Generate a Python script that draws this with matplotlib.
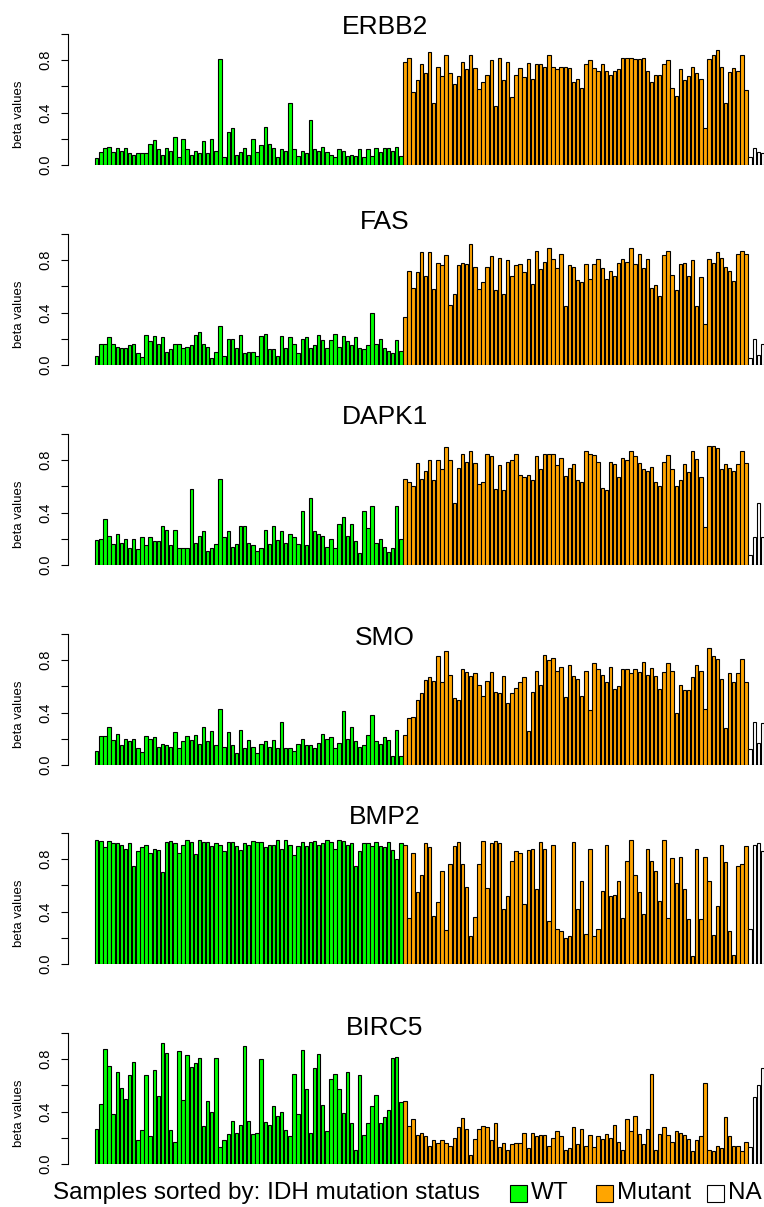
import matplotlib
matplotlib.use("Agg")
import matplotlib.pyplot as plt
from matplotlib.patches import Rectangle

plt.rcParams['font.family'] = ['Liberation Sans', 'DejaVu Sans']

# beta values per gene, samples grouped by IDH status (WT, Mutant, NA)
genes = ['ERBB2', 'FAS', 'DAPK1', 'SMO', 'BMP2', 'BIRC5']

erbb2_wt = [0.05, 0.10, 0.13, 0.14, 0.10, 0.13, 0.11, 0.13, 0.09, 0.08, 0.09, 0.09, 0.09, 0.16, 0.19,
            0.12, 0.08, 0.13, 0.11, 0.21, 0.06, 0.20, 0.12, 0.08, 0.11, 0.09, 0.18, 0.09, 0.20, 0.11,
            0.81, 0.06, 0.25, 0.28, 0.08, 0.10, 0.13, 0.08, 0.20, 0.10, 0.15, 0.29, 0.16, 0.13, 0.06,
            0.12, 0.11, 0.47, 0.12, 0.07, 0.11, 0.09, 0.34, 0.12, 0.11, 0.14, 0.10, 0.08, 0.06, 0.12,
            0.11, 0.07, 0.08, 0.07, 0.12, 0.06, 0.12, 0.07, 0.13, 0.10, 0.13, 0.13, 0.11, 0.14, 0.07]
erbb2_mut = [0.79, 0.82, 0.56, 0.65, 0.77, 0.70, 0.86, 0.47, 0.75, 0.68, 0.84, 0.70, 0.62, 0.68, 0.79,
             0.73, 0.84, 0.74, 0.58, 0.63, 0.69, 0.80, 0.45, 0.82, 0.65, 0.79, 0.52, 0.69, 0.74, 0.67,
             0.78, 0.66, 0.77, 0.77, 0.75, 0.84, 0.75, 0.73, 0.75, 0.75, 0.74, 0.63, 0.66, 0.59, 0.77,
             0.80, 0.74, 0.72, 0.77, 0.72, 0.69, 0.72, 0.73, 0.82, 0.82, 0.82, 0.81, 0.81, 0.82, 0.72,
             0.63, 0.69, 0.69, 0.77, 0.80, 0.59, 0.53, 0.73, 0.65, 0.68, 0.75, 0.70, 0.66, 0.28, 0.81,
             0.84, 0.88, 0.75, 0.47, 0.71, 0.74, 0.72, 0.84, 0.57]
erbb2_na = [0.06, 0.13, 0.10, 0.09]

fas_wt = [0.07, 0.16, 0.16, 0.21, 0.16, 0.14, 0.13, 0.13, 0.15, 0.16, 0.09, 0.06, 0.23, 0.18, 0.22,
          0.16, 0.21, 0.10, 0.12, 0.16, 0.16, 0.13, 0.14, 0.15, 0.23, 0.25, 0.16, 0.14, 0.05, 0.10,
          0.30, 0.07, 0.20, 0.20, 0.13, 0.23, 0.09, 0.10, 0.10, 0.07, 0.22, 0.24, 0.12, 0.12, 0.07,
          0.22, 0.13, 0.21, 0.16, 0.09, 0.20, 0.21, 0.13, 0.15, 0.23, 0.19, 0.13, 0.19, 0.24, 0.14,
          0.22, 0.18, 0.15, 0.21, 0.13, 0.12, 0.15, 0.40, 0.16, 0.20, 0.13, 0.11, 0.09, 0.19, 0.11]
fas_mut = [0.37, 0.72, 0.59, 0.71, 0.86, 0.68, 0.86, 0.58, 0.78, 0.76, 0.84, 0.46, 0.54, 0.76, 0.78,
           0.77, 0.92, 0.75, 0.58, 0.63, 0.75, 0.83, 0.57, 0.82, 0.54, 0.80, 0.68, 0.76, 0.77, 0.71,
           0.81, 0.62, 0.87, 0.73, 0.79, 0.89, 0.81, 0.74, 0.85, 0.45, 0.76, 0.75, 0.65, 0.63, 0.77,
           0.66, 0.77, 0.81, 0.74, 0.66, 0.72, 0.68, 0.78, 0.81, 0.79, 0.89, 0.77, 0.85, 0.74, 0.81,
           0.59, 0.61, 0.53, 0.84, 0.87, 0.69, 0.57, 0.77, 0.78, 0.68, 0.80, 0.45, 0.67, 0.31, 0.81,
           0.78, 0.86, 0.82, 0.75, 0.72, 0.64, 0.85, 0.87, 0.85]
fas_na = [0.05, 0.20, 0.08, 0.16]

dapk1_wt = [0.19, 0.20, 0.35, 0.22, 0.16, 0.24, 0.17, 0.20, 0.13, 0.20, 0.12, 0.21, 0.15, 0.21, 0.18,
            0.18, 0.30, 0.27, 0.15, 0.27, 0.13, 0.13, 0.13, 0.58, 0.17, 0.22, 0.26, 0.11, 0.13, 0.16,
            0.66, 0.21, 0.26, 0.14, 0.16, 0.30, 0.30, 0.17, 0.15, 0.11, 0.13, 0.27, 0.16, 0.30, 0.19,
            0.26, 0.17, 0.24, 0.21, 0.16, 0.41, 0.15, 0.51, 0.26, 0.24, 0.22, 0.14, 0.20, 0.13, 0.31,
            0.37, 0.22, 0.31, 0.18, 0.09, 0.41, 0.28, 0.45, 0.17, 0.20, 0.14, 0.10, 0.13, 0.45, 0.20]
dapk1_mut = [0.66, 0.63, 0.60, 0.78, 0.66, 0.72, 0.80, 0.65, 0.80, 0.73, 0.90, 0.80, 0.47, 0.74, 0.85,
             0.79, 0.87, 0.78, 0.62, 0.63, 0.85, 0.83, 0.58, 0.76, 0.57, 0.79, 0.80, 0.85, 0.69, 0.67,
             0.69, 0.65, 0.83, 0.73, 0.85, 0.85, 0.85, 0.76, 0.82, 0.68, 0.74, 0.77, 0.65, 0.63, 0.87,
             0.85, 0.84, 0.79, 0.59, 0.57, 0.79, 0.77, 0.67, 0.82, 0.80, 0.87, 0.83, 0.78, 0.73, 0.72,
             0.75, 0.63, 0.60, 0.79, 0.84, 0.73, 0.60, 0.65, 0.77, 0.71, 0.87, 0.81, 0.67, 0.29, 0.91,
             0.91, 0.89, 0.73, 0.77, 0.74, 0.72, 0.77, 0.87, 0.78]
dapk1_na = [0.08, 0.21, 0.47, 0.21]

smo_wt = [0.11, 0.22, 0.22, 0.29, 0.19, 0.24, 0.15, 0.20, 0.18, 0.20, 0.13, 0.10, 0.22, 0.20, 0.21,
          0.14, 0.16, 0.15, 0.14, 0.25, 0.13, 0.18, 0.22, 0.19, 0.23, 0.16, 0.29, 0.18, 0.26, 0.15,
          0.43, 0.14, 0.25, 0.15, 0.09, 0.27, 0.13, 0.19, 0.14, 0.09, 0.16, 0.18, 0.14, 0.19, 0.13,
          0.33, 0.13, 0.13, 0.11, 0.16, 0.20, 0.15, 0.15, 0.13, 0.17, 0.24, 0.20, 0.21, 0.13, 0.17,
          0.41, 0.20, 0.29, 0.18, 0.14, 0.15, 0.23, 0.38, 0.18, 0.16, 0.21, 0.19, 0.07, 0.27, 0.07]
smo_mut = [0.23, 0.36, 0.37, 0.50, 0.55, 0.65, 0.67, 0.64, 0.83, 0.63, 0.87, 0.69, 0.51, 0.50, 0.73,
           0.71, 0.68, 0.70, 0.61, 0.53, 0.64, 0.71, 0.56, 0.55, 0.68, 0.47, 0.55, 0.59, 0.63, 0.67,
           0.26, 0.56, 0.72, 0.61, 0.84, 0.80, 0.82, 0.72, 0.75, 0.52, 0.76, 0.68, 0.66, 0.53, 0.72,
           0.42, 0.78, 0.73, 0.69, 0.63, 0.75, 0.58, 0.60, 0.73, 0.73, 0.70, 0.73, 0.71, 0.79, 0.69,
           0.74, 0.68, 0.58, 0.71, 0.78, 0.72, 0.40, 0.61, 0.57, 0.57, 0.67, 0.76, 0.72, 0.43, 0.89,
           0.83, 0.81, 0.66, 0.28, 0.70, 0.63, 0.70, 0.81, 0.63]
smo_na = [0.12, 0.33, 0.17, 0.32]

bmp2_wt = [0.95, 0.94, 0.89, 0.94, 0.92, 0.92, 0.91, 0.88, 0.92, 0.75, 0.86, 0.89, 0.91, 0.85, 0.88,
           0.87, 0.70, 0.93, 0.94, 0.92, 0.85, 0.91, 0.95, 0.93, 0.84, 0.95, 0.93, 0.93, 0.90, 0.92,
           0.91, 0.86, 0.93, 0.93, 0.90, 0.87, 0.92, 0.91, 0.94, 0.93, 0.93, 0.89, 0.91, 0.91, 0.95,
           0.88, 0.95, 0.91, 0.83, 0.90, 0.93, 0.90, 0.93, 0.94, 0.91, 0.92, 0.95, 0.93, 0.88, 0.95,
           0.94, 0.91, 0.92, 0.75, 0.86, 0.92, 0.92, 0.90, 0.93, 0.90, 0.89, 0.93, 0.87, 0.80, 0.92]
bmp2_mut = [0.91, 0.35, 0.85, 0.55, 0.68, 0.92, 0.89, 0.37, 0.47, 0.71, 0.26, 0.76, 0.90, 0.93, 0.76,
            0.59, 0.21, 0.36, 0.76, 0.94, 0.58, 0.92, 0.94, 0.92, 0.42, 0.52, 0.79, 0.86, 0.85, 0.46,
            0.87, 0.88, 0.57, 0.93, 0.88, 0.33, 0.91, 0.27, 0.25, 0.20, 0.21, 0.93, 0.42, 0.63, 0.23,
            0.88, 0.21, 0.27, 0.56, 0.91, 0.52, 0.53, 0.63, 0.35, 0.79, 0.95, 0.68, 0.55, 0.38, 0.88,
            0.79, 0.71, 0.48, 0.95, 0.35, 0.81, 0.62, 0.82, 0.57, 0.34, 0.06, 0.88, 0.34, 0.82, 0.63,
            0.22, 0.44, 0.91, 0.78, 0.25, 0.07, 0.75, 0.76, 0.90]
bmp2_na = [0.27, 0.91, 0.92, 0.86]

birc5_wt = [0.27, 0.46, 0.88, 0.75, 0.38, 0.70, 0.58, 0.50, 0.68, 0.78, 0.18, 0.26, 0.68, 0.21, 0.72,
            0.52, 0.92, 0.85, 0.26, 0.17, 0.86, 0.49, 0.83, 0.74, 0.77, 0.81, 0.29, 0.48, 0.40, 0.81,
            0.13, 0.18, 0.23, 0.33, 0.24, 0.30, 0.90, 0.33, 0.23, 0.24, 0.80, 0.32, 0.30, 0.44, 0.37,
            0.40, 0.26, 0.21, 0.69, 0.38, 0.87, 0.57, 0.24, 0.73, 0.84, 0.45, 0.25, 0.65, 0.69, 0.57,
            0.39, 0.70, 0.31, 0.11, 0.68, 0.22, 0.31, 0.44, 0.53, 0.31, 0.36, 0.41, 0.81, 0.82, 0.47]
birc5_mut = [0.48, 0.29, 0.34, 0.22, 0.24, 0.21, 0.14, 0.18, 0.16, 0.18, 0.16, 0.14, 0.20, 0.28, 0.35,
             0.27, 0.07, 0.19, 0.27, 0.29, 0.28, 0.18, 0.31, 0.13, 0.16, 0.11, 0.15, 0.16, 0.16, 0.24,
             0.12, 0.24, 0.21, 0.22, 0.22, 0.14, 0.20, 0.25, 0.21, 0.11, 0.12, 0.28, 0.15, 0.27, 0.14,
             0.22, 0.13, 0.21, 0.19, 0.23, 0.20, 0.30, 0.17, 0.11, 0.34, 0.25, 0.37, 0.23, 0.15, 0.27,
             0.69, 0.11, 0.23, 0.28, 0.22, 0.17, 0.25, 0.24, 0.22, 0.19, 0.10, 0.18, 0.21, 0.62, 0.11,
             0.10, 0.14, 0.12, 0.36, 0.21, 0.14, 0.14, 0.10, 0.17]
birc5_na = [0.13, 0.51, 0.60, 0.73]

groups = ['WT', 'Mutant', 'NA']
group_colors = ['#00FF00', '#FFA500', 'white']

panel_data = [
    (erbb2_wt, erbb2_mut, erbb2_na),
    (fas_wt, fas_mut, fas_na),
    (dapk1_wt, dapk1_mut, dapk1_na),
    (smo_wt, smo_mut, smo_na),
    (bmp2_wt, bmp2_mut, bmp2_na),
    (birc5_wt, birc5_mut, birc5_na),
]

# layout in pixels (figure is 764 x 1207)
W, H = 764, 1207
baselines = [165, 365, 565, 765, 964, 1164]
title_y = [34, 229, 424, 645, 824, 1035]

fig = plt.figure(figsize=(W / 100, H / 100), dpi=100)

for gene, data, base, ty in zip(genes, panel_data, baselines, title_y):
    ax = fig.add_axes([68 / W, 1 - base / H, (W - 68) / W, 131 / H])
    vals, cols = [], []
    for g, col in zip(data, group_colors):
        vals += g
        cols += [col] * len(g)
    ax.bar(range(len(vals)), vals, width=0.83, align='edge', color=cols,
           edgecolor='black', linewidth=0.8)
    ax.set_xlim(-6.57, (W - 95) / 4.11)
    ax.set_ylim(0, 1)
    for s in ['top', 'right', 'bottom']:
        ax.spines[s].set_visible(False)
    ax.spines['left'].set_bounds(0, 1)
    ax.spines['left'].set_linewidth(0.8)
    ax.set_xticks([])
    ax.set_yticks([0, 0.2, 0.4, 0.6, 0.8, 1.0])
    ax.set_yticklabels(['0.0', '', '0.4', '', '0.8', ''], rotation=90, va='center', fontsize=10.5)
    ax.tick_params(axis='y', length=5, width=0.8, pad=6)
    ax.patch.set_visible(False)

    fig.text(19 / W, 1 - (base - 51) / H, 'beta values', rotation=90,
             ha='center', va='center', fontsize=9.5)
    fig.text(385 / W, 1 - ty / H, gene, ha='center', va='baseline', fontsize=19)

# legend row at the bottom
ly = 1 - 1193 / H
fig.text(53 / W, ly, 'Samples sorted by: IDH mutation status', ha='left', va='center', fontsize=17.5)
for x0, col, lab in zip([510, 596, 707], group_colors, groups):
    fig.add_artist(Rectangle((x0 / W, 1 - 1202 / H), 17 / W, 17 / H, transform=fig.transFigure,
                             facecolor=col, edgecolor='black', linewidth=0.8))
    fig.text((x0 + 21) / W, ly, lab, ha='left', va='center', fontsize=17.5)

fig.savefig('out.png', dpi=100)
